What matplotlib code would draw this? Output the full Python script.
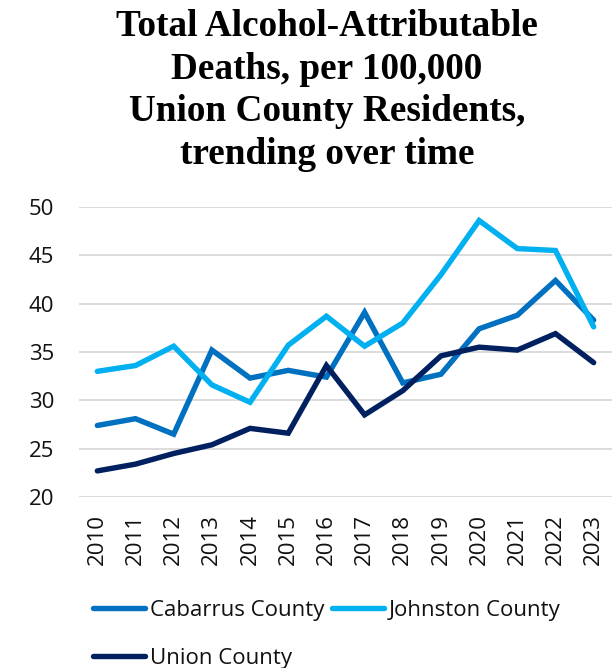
import matplotlib
matplotlib.use("Agg")
import matplotlib.pyplot as plt
from matplotlib.lines import Line2D

years = list(range(2010, 2024))
cabarrus = [27.4, 28.1, 26.5, 35.2, 32.3, 33.1, 32.4, 39.1, 31.8, 32.7, 37.4, 38.8, 42.4, 38.3]
johnston = [33.0, 33.6, 35.6, 31.6, 29.8, 35.7, 38.7, 35.6, 38.0, 43.0, 48.6, 45.7, 45.5, 37.6]
union = [22.7, 23.4, 24.5, 25.4, 27.1, 26.6, 33.6, 28.5, 31.0, 34.6, 35.5, 35.2, 36.9, 33.9]

series_names = ["Cabarrus County", "Johnston County", "Union County"]
series_colors = ["#0070C0", "#00B0F0", "#002060"]
yticks = [20, 25, 30, 35, 40, 45, 50]
title = "Total Alcohol-Attributable\nDeaths, per 100,000\nUnion County Residents,\ntrending over time"

W, H = 616, 668
fig = plt.figure(figsize=(W / 100, H / 100), dpi=100)
ax = fig.add_axes([79 / W, 1 - 497 / H, (612 - 79) / W, (497 - 207) / H])

for vals, col in zip([cabarrus, johnston, union], series_colors):
    ax.plot(range(len(years)), vals, color=col, lw=3.9, solid_capstyle="round",
            solid_joinstyle="miter", zorder=3)

ax.set_ylim(20, 50)
ax.set_xlim(-0.48, len(years) - 0.52)
ax.set_yticks(yticks)
ax.set_xticks(range(len(years)))
tick_font = dict(family="Open Sans", size=16)
ax.set_yticklabels([str(v) for v in yticks], **tick_font, color="#111111")
ax.set_xticklabels([str(y) for y in years], rotation=90, **tick_font, color="#111111")
ax.tick_params(axis="y", length=0, pad=18)
ax.tick_params(axis="x", length=0, pad=12)
ax.grid(axis="y", color="#D9D9D9", lw=1.3, zorder=0)
for s in ax.spines.values():
    s.set_visible(False)

fig.text(327 / W, 1 - 9 / H, title, ha="center", va="top", family="Liberation Serif",
         fontweight="bold", fontsize=26.8, linespacing=1.28)

# legend is filled column by column, so order entries to read row by row
order = [0, 2, 1]
handles = [Line2D([0], [0], color=series_colors[i], lw=3.9, solid_capstyle="round") for i in order]
labels = [series_names[i] for i in order]
leg = fig.legend(handles, labels, loc="upper left", bbox_to_anchor=(82 / W, 1 - 589 / H),
                 ncol=2, frameon=False, borderpad=0, handlelength=2.35, handletextpad=0.2,
                 columnspacing=0.35, labelspacing=1.22,
                 prop=dict(family="Open Sans", size=16))
for t in leg.get_texts():
    t.set_color("#111111")

fig.savefig("out.png", dpi=100)
